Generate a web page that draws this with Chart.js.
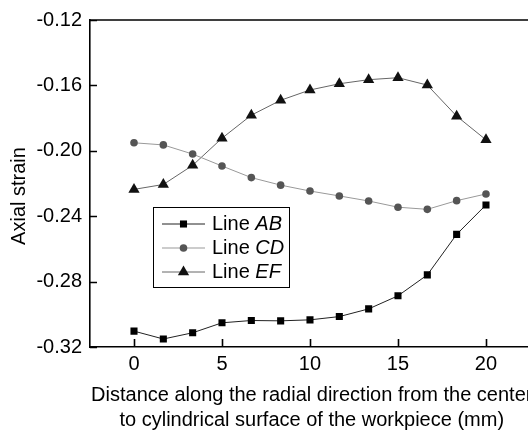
<!DOCTYPE html>
<html>
<head>
<meta charset="utf-8">
<script src="https://cdn.jsdelivr.net/npm/chart.js@4/dist/chart.umd.min.js"></script>
<style>
  html, body { margin: 0; padding: 0; background: #fff; overflow: hidden; }
  #wrap { width: 540px; height: 433px; }
</style>
</head>
<body>
<div id="wrap"><canvas id="chart" width="540" height="433"></canvas></div>
<script>
'use strict';

// distance along the radius (mm)
const distance = [0, 1.667, 3.333, 5, 6.667, 8.333, 10, 11.667, 13.333, 15, 16.667, 18.333, 20];
const lineAB = [-0.3103, -0.3151, -0.3113, -0.3052, -0.3038, -0.3040, -0.3034, -0.3014, -0.2967, -0.2887, -0.2759, -0.2511, -0.2331];
const lineCD = [-0.1951, -0.1964, -0.2020, -0.2093, -0.2164, -0.2210, -0.2246, -0.2276, -0.2307, -0.2345, -0.2358, -0.2305, -0.2264];
const lineEF = [-0.2236, -0.2206, -0.2089, -0.1923, -0.1782, -0.1691, -0.1628, -0.1590, -0.1565, -0.1553, -0.1598, -0.1788, -0.1933];
const xTicks = [0, 5, 10, 15, 20];
const yTicks = [-0.32, -0.28, -0.24, -0.20, -0.16, -0.12];
const legendNames = [['Line ', 'AB'], ['Line ', 'CD'], ['Line ', 'EF']];
const yTitle = 'Axial strain';
const xTitle = ['Distance along the radial direction from the center', 'to cylindrical surface of the workpiece (mm)'];

const FONT = '"Liberation Sans", Arial, sans-serif';
const SIZE = 20;

const toPoints = ys => distance.map((x, i) => ({ x, y: ys[i] }));

const styles = [
  { line: '#222', fill: '#000', shape: 'rect', radius: 5 },
  { line: '#999', fill: '#555', shape: 'circle', radius: 3.8 },
  { line: '#666', fill: '#111', shape: 'triangle', radius: 6.5 },
];

// inward ticks, top frame line, y title and the legend box
const frame = {
  id: 'frame',
  afterDatasetsDraw(chart) {
    const { ctx, chartArea: a, scales: { x, y } } = chart;
    ctx.save();
    ctx.strokeStyle = '#000';
    ctx.lineWidth = 1.6;
    ctx.beginPath();
    ctx.moveTo(a.left, a.top);
    ctx.lineTo(a.right + 5, a.top);
    xTicks.forEach(v => {
      const px = Math.round(x.getPixelForValue(v)) + 0.5;
      ctx.moveTo(px, a.bottom);
      ctx.lineTo(px, a.bottom - 8);
    });
    yTicks.forEach(v => {
      const py = Math.round(y.getPixelForValue(v)) + 0.5;
      ctx.moveTo(a.left, py);
      ctx.lineTo(a.left + 7, py);
    });
    ctx.stroke();

    // y title, sits a little below the middle of the axis
    ctx.save();
    ctx.translate(19, 196);
    ctx.rotate(-Math.PI / 2);
    ctx.fillStyle = '#000';
    ctx.font = `${SIZE}px ${FONT}`;
    ctx.textAlign = 'center';
    ctx.textBaseline = 'middle';
    ctx.fillText(yTitle, 0, 0);
    ctx.restore();

    // legend
    const bx = 153.5, by = 207.5, bw = 136, bh = 80;
    ctx.fillStyle = '#fff';
    ctx.fillRect(bx, by, bw, bh);
    ctx.lineWidth = 1;
    ctx.strokeRect(bx, by, bw, bh);
    ctx.textBaseline = 'middle';
    legendNames.forEach((name, i) => {
      const ry = 224 + i * 24;
      const st = styles[i];
      ctx.strokeStyle = st.line;
      ctx.lineWidth = 1;
      ctx.beginPath();
      ctx.moveTo(162, ry);
      ctx.lineTo(205, ry);
      ctx.stroke();
      ctx.fillStyle = st.fill;
      ctx.strokeStyle = st.fill;
      Chart.helpers.drawPoint(ctx, { pointStyle: st.shape, radius: st.radius, borderWidth: 0, rotation: 0 }, 183.5, ry);
      ctx.fillStyle = '#000';
      ctx.font = `${SIZE}px ${FONT}`;
      ctx.fillText(name[0], 212, ry);
      const w = ctx.measureText(name[0]).width;
      ctx.font = `italic ${SIZE}px ${FONT}`;
      ctx.fillText(name[1], 212 + w, ry);
    });
    ctx.restore();
  }
};

new Chart('chart', {
  type: 'line',
  data: {
    datasets: [lineAB, lineCD, lineEF].map((ys, i) => ({
      label: legendNames[i].join(''),
      data: toPoints(ys),
      borderColor: styles[i].line,
      borderWidth: 1,
      pointStyle: styles[i].shape,
      pointRadius: styles[i].radius,
      pointHoverRadius: styles[i].radius,
      pointBackgroundColor: styles[i].fill,
      pointBorderColor: styles[i].fill,
      pointBorderWidth: 0,
      tension: 0,
    }))
  },
  options: {
    responsive: false,
    animation: false,
    layout: { padding: { top: 17, right: 5, left: 0, bottom: 0 } },
    plugins: { legend: { display: false }, tooltip: { enabled: false } },
    scales: {
      x: {
        type: 'linear',
        min: -2.5,
        max: 22.7,
        afterBuildTicks: s => { s.ticks = xTicks.map(v => ({ value: v })); },
        afterFit: s => { s.height = 86; },
        grid: { display: false, drawTicks: false },
        border: { color: '#000', width: 1.6 },
        ticks: { padding: 5, color: '#000', font: { family: FONT, size: SIZE }, maxRotation: 0 },
        title: {
          display: true,
          text: xTitle,
          color: '#000',
          font: { family: FONT, size: SIZE, lineHeight: 1.25 },
          padding: { top: 0, bottom: 0 }
        }
      },
      y: {
        min: -0.32,
        max: -0.12,
        afterBuildTicks: s => { s.ticks = yTicks.map(v => ({ value: v })); },
        afterFit: s => { s.width = 90; },
        grid: { display: false, drawTicks: false },
        border: { color: '#000', width: 1.6 },
        ticks: { padding: 8, color: '#000', font: { family: FONT, size: SIZE }, callback: v => v.toFixed(2) },
        title: { display: false }
      }
    }
  },
  plugins: [frame]
});
</script>
</body>
</html>
